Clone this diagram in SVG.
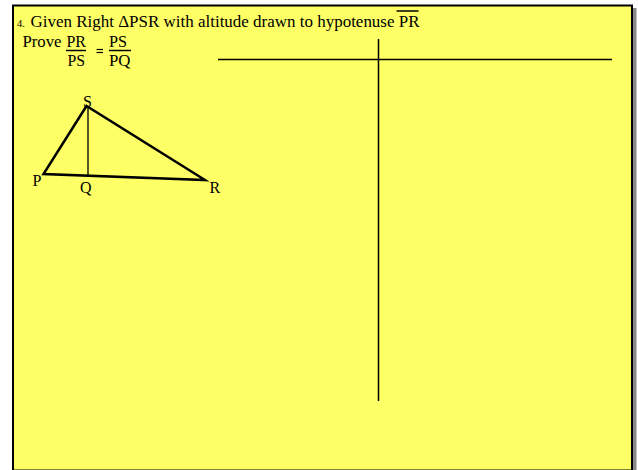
<svg xmlns="http://www.w3.org/2000/svg" width="638" height="470" viewBox="0 0 638 470">
<style>
.t{font-family:"Liberation Serif","Times New Roman",serif;fill:#000}
.ln{stroke:#000;fill:none}
</style>
<rect width="638" height="470" fill="#fff"/>
<rect x="633" y="8" width="3.5" height="462" fill="#888"/>
<rect x="13" y="5.5" width="619" height="465" fill="#ffff66" stroke="#000" stroke-width="2"/>
<g id="title">
<text class="t" x="17" y="27" font-size="10.5">4.</text>
<text class="t" x="30.5" y="27" font-size="16.5" textLength="389" lengthAdjust="spacingAndGlyphs">Given Right ΔPSR with altitude drawn to hypotenuse PR</text>
<line class="ln" x1="396.5" y1="11" x2="418.5" y2="11" stroke-width="1.5"/>
</g>
<g id="prove">
<text class="t" x="22.5" y="47" font-size="16.5" textLength="39" lengthAdjust="spacingAndGlyphs">Prove</text>
<text class="t" x="66.5" y="47" font-size="16.5" textLength="19.5" lengthAdjust="spacingAndGlyphs">PR</text>
<line class="ln" x1="66" y1="50.5" x2="86" y2="50.5" stroke-width="1.5"/>
<text class="t" x="67.5" y="65.5" font-size="16.5" textLength="17.5" lengthAdjust="spacingAndGlyphs">PS</text>
<line class="ln" x1="96.5" y1="49.5" x2="103" y2="49.5" stroke-width="1.2"/>
<line class="ln" x1="96.5" y1="52.5" x2="103" y2="52.5" stroke-width="1.2"/>
<text class="t" x="109" y="47" font-size="16.5" textLength="18" lengthAdjust="spacingAndGlyphs">PS</text>
<line class="ln" x1="109" y1="50.5" x2="131" y2="50.5" stroke-width="1.5"/>
<text class="t" x="109" y="65.5" font-size="16.5" textLength="21.5" lengthAdjust="spacingAndGlyphs">PQ</text>
</g>
<g id="tchart">
<line class="ln" x1="218" y1="59.5" x2="612" y2="59.5" stroke-width="1.5"/>
<line class="ln" x1="378.5" y1="39" x2="378.5" y2="401" stroke-width="1.5"/>
</g>
<g id="triangle">
<polygon class="ln" points="86.5,106 43.5,174 205,180" stroke-width="2.5" stroke-linejoin="miter"/>
<line class="ln" x1="88" y1="107" x2="88" y2="176.5" stroke-width="1.3"/>
<text class="t" x="83" y="106.5" font-size="16">S</text>
<text class="t" x="32.5" y="186" font-size="16">P</text>
<text class="t" x="80" y="193" font-size="16">Q</text>
<text class="t" x="209.5" y="192.5" font-size="16">R</text>
</g>
</svg>
